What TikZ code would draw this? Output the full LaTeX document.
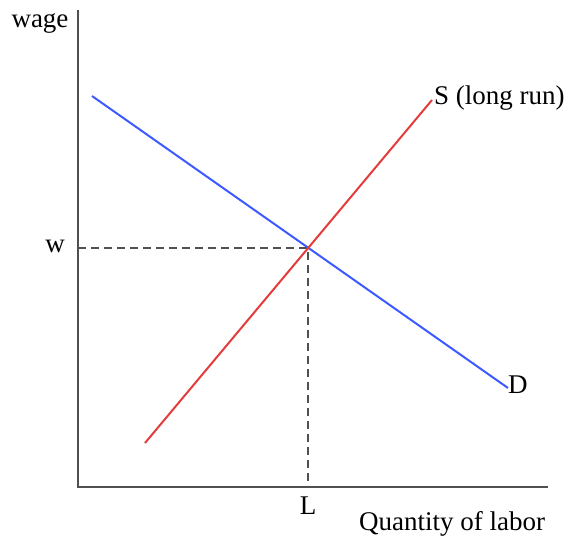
\documentclass[tikz,border=0pt]{standalone}
\usepackage{fontspec}
\setmainfont{Liberation Serif}
\usepackage{tikz}
\usetikzlibrary{positioning}
\definecolor{supplyred}{RGB}{228,60,60}
\definecolor{demandblue}{RGB}{60,90,255}
\definecolor{axisgray}{RGB}{80,80,80}
\tikzset{
  axisline/.style={draw=axisgray, line width=2pt},
  curveline/.style={line width=2pt},
  guideline/.style={draw=axisgray, line width=1.4pt, dash pattern=on 8pt off 5pt},
  lbl/.style={font=\fontsize{27}{30}\selectfont, inner sep=0pt},
}

\begin{document}
\begin{tikzpicture}[x=1pt, y=-1pt]
  \useasboundingbox (0,0) rectangle (570,541);

  % Axes
  \coordinate (top) at (78,10);
  \coordinate (O) at (78,487);
  \coordinate (right) at (548,487);
  \draw[axisline] (top) -- (O) -- (right);

  % Curve end points and equilibrium
  \coordinate (d1) at (92,96);
  \coordinate (d2) at (508,388);
  \coordinate (s1) at (145,443);
  \coordinate (s2) at (432,100);
  \coordinate (E) at (308,248);
  \coordinate (Ew) at (78,248);
  \coordinate (EL) at (308,487);

  % Dashed guides
  \draw[guideline] (Ew) -- (E) -- (EL);

  % Supply and demand
  \draw[curveline, demandblue] (d1) -- (d2);
  \draw[curveline, supplyred] (s1) -- (s2);

  % Labels
  \node[lbl] (wage) at (40,23) {wage};
  \node[lbl] (w) at (55,246) {w};
  \node[lbl] (L) at (308,506) {L};
  \node[lbl, anchor=west] (S) at (434,98) {S (long run)};
  \node[lbl, anchor=west] (D) at (508,385) {D};
  \node[lbl] (qty) at (452,524) {Quantity of labor};
\end{tikzpicture}
\end{document}
